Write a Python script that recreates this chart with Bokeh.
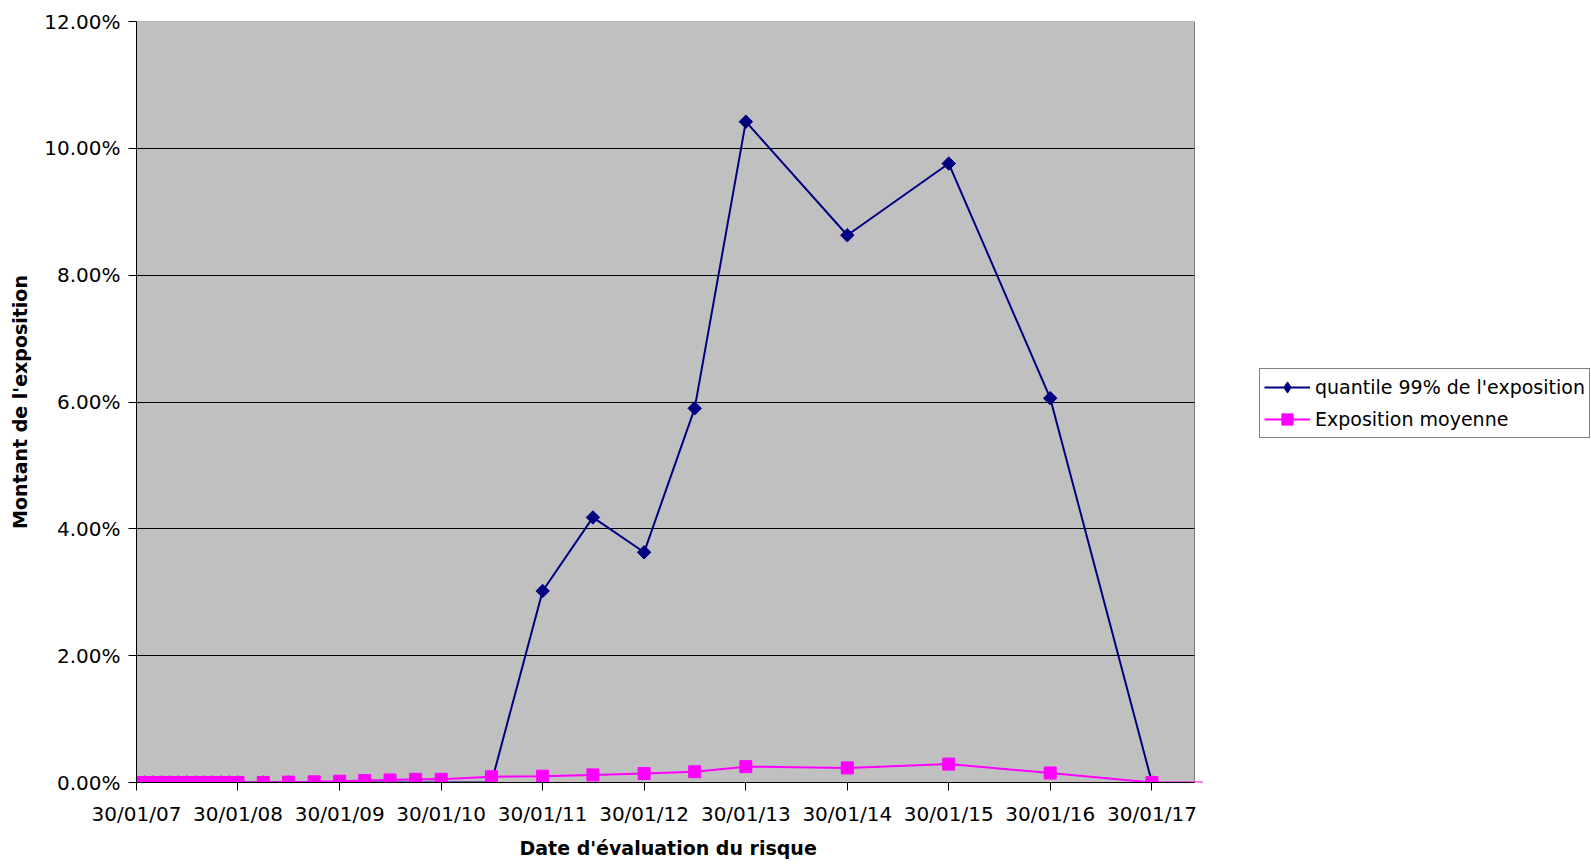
import math
import pandas as pd
from bokeh.models import (ColumnDataSource, Range1d, FixedTicker, NumeralTickFormatter,
                          DatetimeTickFormatter, Legend, LegendItem, Title)
from bokeh.plotting import figure
from bokeh.embed import file_html
from bokeh.resources import INLINE

# dates d'évaluation (mensuel la 1re année, puis trimestriel, semestriel, annuel)
dates = ["2007-01-30", "2007-02-28", "2007-03-30", "2007-04-30", "2007-05-30", "2007-06-30",
         "2007-07-30", "2007-08-30", "2007-09-30", "2007-10-30", "2007-11-30", "2007-12-30",
         "2008-01-30",
         "2008-04-30", "2008-07-30", "2008-10-30", "2009-01-30", "2009-04-30", "2009-07-30",
         "2009-10-30", "2010-01-30",
         "2010-07-30", "2011-01-30", "2011-07-30", "2012-01-30", "2012-07-30", "2013-01-30",
         "2014-01-30", "2015-01-30", "2016-01-30", "2017-01-30"]

quantile_99 = [0.0, 0.0, 0.0, 0.0, 0.0, 0.0, 0.0, 0.0, 0.0, 0.0, 0.0, 0.0, 0.0,
               0.0, 0.0, 0.0, 0.0, 0.0, 0.0, 0.0, 0.0,
               0.0, 0.0302, 0.0418, 0.0363, 0.0590, 0.1042,
               0.0863, 0.0976, 0.0606, 0.0]

expo_moyenne = [0.0, 0.0, 0.0, 0.0, 0.0, 0.0, 0.0, 0.0, 0.0, 0.0, 0.0, 0.0, 0.0,
                0.0, 0.00005, 0.0001, 0.0002, 0.0003, 0.0004, 0.0005, 0.0005,
                0.0009, 0.0010, 0.0012, 0.0014, 0.0017, 0.0025,
                0.0023, 0.0029, 0.0015, 0.0]

# la courbe rose continue au-delà du dernier point
tail_dates = ["2017-01-30", "2017-08-01"]
tail_values = [0.0, 0.0]

year_ticks = ["2007-01-30", "2008-01-30", "2009-01-30", "2010-01-30", "2011-01-30", "2012-01-30",
              "2013-01-30", "2014-01-30", "2015-01-30", "2016-01-30", "2017-01-30"]

FONT = "DejaVu Sans"
W, H = 1591, 865
LEFT, AREA_W = 136, 1058   # zone grise du graphique, en pixels

src = ColumnDataSource(data=dict(date=pd.to_datetime(dates), q99=quantile_99, moy=expo_moyenne))
tail = ColumnDataSource(data=dict(date=pd.to_datetime(tail_dates), v=tail_values))

# la zone de tracé Bokeh va jusqu'au bord droit (pour la légende), la zone grise s'arrête avant
x0 = pd.Timestamp("2007-01-30")
x_area_end = pd.Timestamp("2017-07-02")
x_full_end = x0 + (x_area_end - x0) * ((W - LEFT) / AREA_W)
area_bounds = (x0.value / 1e6, x_area_end.value / 1e6)

p = figure(width=W, height=H, x_axis_type="datetime",
           x_range=Range1d(x0, x_full_end), y_range=Range1d(0, 0.12),
           output_backend="svg", toolbar_location=None,
           min_border_left=LEFT, min_border_right=0, min_border_top=21, min_border_bottom=83,
           border_fill_color="white", background_fill_color="white")
p.outline_line_color = None

# fond gris de la zone de tracé
p.quad(left=[x0], right=[x_area_end], bottom=[0], top=[0.12],
       fill_color="#C0C0C0", line_color="#808080", line_width=1, level="image")

p.xgrid.visible = False
p.ygrid.grid_line_color = "black"
p.ygrid.grid_line_width = 1
p.ygrid.cross_bounds = area_bounds

# axes
p.yaxis.ticker = FixedTicker(ticks=[0, 0.02, 0.04, 0.06, 0.08, 0.10, 0.12])
p.yaxis.formatter = NumeralTickFormatter(format="0.00%")
ms = [pd.Timestamp(d).value / 1e6 for d in year_ticks]
p.xaxis.ticker = FixedTicker(ticks=ms)
p.xaxis.bounds = area_bounds
fmt = "%d/%m/%y"
p.xaxis.formatter = DatetimeTickFormatter(milliseconds=fmt, seconds=fmt, minsec=fmt, minutes=fmt,
                                          hourmin=fmt, hours=fmt, days=fmt, months=fmt, years=fmt)

for ax in (p.xaxis[0], p.yaxis[0]):
    ax.axis_line_color = "black"
    ax.axis_line_width = 1
    ax.major_tick_line_color = "black"
    ax.major_tick_in = 0
    ax.major_tick_out = 8
    ax.minor_tick_line_color = None
    ax.major_label_text_font = FONT
    ax.major_label_text_font_size = "20px"
    ax.major_label_text_color = "black"
    ax.axis_label_text_font = FONT
    ax.axis_label_text_font_size = "19px"
    ax.axis_label_text_font_style = "bold"
    ax.axis_label_text_color = "black"

p.yaxis.axis_label = "Montant de l'exposition"
p.xaxis.major_label_standoff = 11
p.yaxis.major_label_standoff = 8
p.yaxis.axis_label_standoff = 10

# titre de l'axe x, centré sous la zone grise (et non sous tout le cadre)
xtitle = Title(text="Date d'évaluation du risque", align="left", offset=383,
               text_font=FONT, text_font_size="19px", text_font_style="bold",
               text_color="black", vertical_align="bottom", standoff=13)
p.add_layout(xtitle, "below")

# séries
l1 = p.line("date", "q99", source=src, line_color="#000080", line_width=2)
p.scatter("date", "q99", source=src, marker="square", angle=math.pi / 4, size=9.5,
          fill_color="#000080", line_color="#000080")
# symbole losange pour la légende seulement (la légende ignore l'angle)
m1 = p.scatter(x=[float("nan")], y=[float("nan")], marker="diamond", size=12,
               fill_color="#000080", line_color="#000080")
p.line("date", "v", source=tail, line_color="#FF00FF", line_width=2)
l2 = p.line("date", "moy", source=src, line_color="#FF00FF", line_width=2)
m2 = p.scatter("date", "moy", source=src, marker="square", size=12,
               fill_color="#FF00FF", line_color="#FF00FF")

legend = Legend(items=[LegendItem(label="quantile 99% de l'exposition", renderers=[l1, m1]),
                       LegendItem(label="Exposition moyenne", renderers=[l2, m2])],
                location=(1259 - LEFT, 344), orientation="vertical")
legend.label_text_font = FONT
legend.label_text_font_size = "19px"
legend.label_text_color = "black"
legend.border_line_color = "black"
legend.border_line_width = 1
legend.background_fill_color = "white"
legend.background_fill_alpha = 1
legend.padding = 4
legend.spacing = 4
legend.margin = 0
legend.label_height = 28
legend.glyph_height = 28
legend.glyph_width = 46
legend.label_standoff = 5
p.add_layout(legend, "center")

open("out.html", "w").write(file_html(p, INLINE))
